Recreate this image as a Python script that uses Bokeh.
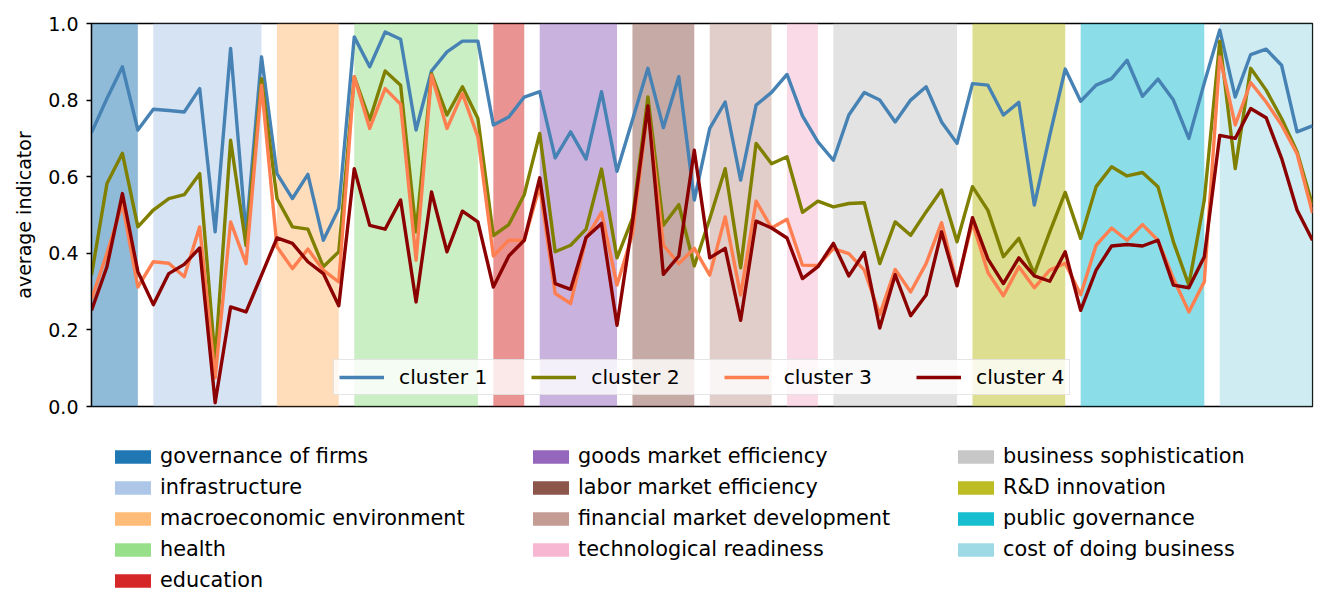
from bokeh.plotting import figure
from bokeh.layouts import column
from bokeh.models import (Range1d, FixedTicker, PrintfTickFormatter, Legend,
                          LegendItem, ColumnDataSource)
from bokeh.embed import file_html
from bokeh.resources import INLINE

# indicator groups, how many indicators each holds, and their colours
categories = ["governance of firms", "infrastructure", "macroeconomic environment",
              "health", "education", "goods market efficiency",
              "labor market efficiency", "financial market development",
              "technological readiness", "business sophistication",
              "R&D innovation", "public governance", "cost of doing business"]
category_sizes = [4, 8, 5, 9, 3, 6, 5, 5, 3, 9, 7, 9, 7]
category_colors = ["#1f77b4", "#aec7e8", "#ffbb78", "#98df8a", "#d62728",
                   "#9467bd", "#8c564b", "#c49c94", "#f7b6d2", "#c7c7c7",
                   "#bcbd22", "#17becf", "#9edae5"]

# average indicator value per cluster, one value per indicator
cluster_1 = [0.715, 0.804, 0.887, 0.722, 0.776, 0.773, 0.769, 0.830, 0.456, 0.935,
             0.450, 0.913, 0.608, 0.543, 0.606, 0.434, 0.517, 0.965, 0.887, 0.978,
             0.959, 0.722, 0.876, 0.926, 0.954, 0.954, 0.735, 0.756, 0.808, 0.822,
             0.649, 0.717, 0.646, 0.822, 0.614, 0.748, 0.883, 0.728, 0.861, 0.539,
             0.726, 0.795, 0.591, 0.787, 0.820, 0.867, 0.759, 0.691, 0.643, 0.761,
             0.820, 0.800, 0.743, 0.800, 0.835, 0.743, 0.687, 0.843, 0.839, 0.761,
             0.794, 0.526, 0.708, 0.881, 0.797, 0.839, 0.856, 0.904, 0.810, 0.855,
             0.800, 0.700, 0.845, 0.983, 0.808, 0.919, 0.933, 0.891, 0.717, 0.733]
cluster_2 = [0.343, 0.582, 0.661, 0.469, 0.513, 0.543, 0.553, 0.608, 0.121, 0.695,
             0.420, 0.856, 0.543, 0.469, 0.463, 0.365, 0.404, 0.861, 0.748, 0.876,
             0.839, 0.456, 0.869, 0.761, 0.835, 0.752, 0.446, 0.475, 0.553, 0.713,
             0.404, 0.421, 0.463, 0.620, 0.388, 0.491, 0.808, 0.473, 0.527, 0.367,
             0.490, 0.621, 0.362, 0.687, 0.634, 0.652, 0.507, 0.536, 0.521, 0.530,
             0.532, 0.373, 0.482, 0.447, 0.508, 0.565, 0.430, 0.574, 0.512, 0.391,
             0.439, 0.347, 0.456, 0.559, 0.439, 0.574, 0.626, 0.602, 0.611, 0.574,
             0.430, 0.317, 0.539, 0.954, 0.621, 0.883, 0.826, 0.752, 0.665, 0.526]
cluster_3 = [0.280, 0.400, 0.530, 0.312, 0.378, 0.374, 0.339, 0.469, 0.075, 0.482,
             0.373, 0.839, 0.417, 0.360, 0.411, 0.356, 0.325, 0.861, 0.726, 0.830,
             0.789, 0.382, 0.865, 0.726, 0.817, 0.704, 0.393, 0.434, 0.434, 0.575,
             0.295, 0.269, 0.439, 0.507, 0.317, 0.450, 0.780, 0.421, 0.373, 0.413,
             0.343, 0.495, 0.291, 0.536, 0.466, 0.489, 0.369, 0.368, 0.412, 0.399,
             0.356, 0.240, 0.358, 0.299, 0.373, 0.480, 0.320, 0.480, 0.350, 0.289,
             0.365, 0.310, 0.356, 0.374, 0.292, 0.421, 0.466, 0.434, 0.475, 0.434,
             0.334, 0.247, 0.326, 0.913, 0.735, 0.846, 0.795, 0.735, 0.660, 0.505]
cluster_4 = [0.251, 0.365, 0.556, 0.352, 0.266, 0.347, 0.371, 0.414, 0.010, 0.260,
             0.247, 0.343, 0.440, 0.426, 0.378, 0.347, 0.263, 0.621, 0.473, 0.463,
             0.539, 0.273, 0.560, 0.404, 0.510, 0.482, 0.312, 0.393, 0.434, 0.597,
             0.321, 0.306, 0.441, 0.478, 0.212, 0.480, 0.785, 0.345, 0.393, 0.669,
             0.388, 0.413, 0.225, 0.484, 0.466, 0.440, 0.334, 0.365, 0.426, 0.341,
             0.402, 0.205, 0.344, 0.237, 0.291, 0.456, 0.315, 0.493, 0.385, 0.321,
             0.388, 0.341, 0.327, 0.404, 0.251, 0.356, 0.419, 0.423, 0.419, 0.434,
             0.317, 0.310, 0.391, 0.708, 0.700, 0.778, 0.754, 0.648, 0.513, 0.434]

cluster_names = ["cluster 1", "cluster 2", "cluster 3", "cluster 4"]
cluster_colors = ["steelblue", "olive", "coral", "darkred"]
y_ticks = [0.0, 0.2, 0.4, 0.6, 0.8, 1.0]

FONT = "DejaVu Sans"

# span of indicator positions covered by each group
starts, ends = [], []
pos = 0
for n in category_sizes:
    starts.append(pos)
    ends.append(pos + n - 1)
    pos += n
n_points = pos
x = list(range(n_points))

p = figure(width=1335, height=430, output_backend="svg", toolbar_location=None,
           x_range=Range1d(0, n_points - 1), y_range=Range1d(0, 1),
           x_axis_location=None,
           min_border_left=91, min_border_right=23, min_border_top=23,
           min_border_bottom=24)
p.grid.visible = False
p.outline_line_color = "black"
p.outline_line_width = 1.3

# shaded background bands, one per indicator group
bands = ColumnDataSource(dict(left=starts, right=ends, color=category_colors))
p.quad(left="left", right="right", bottom=0, top=1, fill_color="color",
       fill_alpha=0.5, line_color=None, source=bands)

# cluster profiles
line_renderers = []
for vals, col in zip([cluster_1, cluster_2, cluster_3, cluster_4], cluster_colors):
    r = p.line(x, vals, line_color=col, line_width=3.4, line_join="round")
    line_renderers.append(r)

# y axis
yax = p.yaxis[0]
yax.ticker = FixedTicker(ticks=y_ticks)
yax.formatter = PrintfTickFormatter(format="%.1f")
yax.minor_tick_line_color = None
yax.major_tick_in = 0
yax.major_tick_out = 5
yax.major_tick_line_width = 1.3
yax.axis_line_width = 1.3
yax.major_label_standoff = 8
yax.major_label_text_font = FONT
yax.major_label_text_font_size = "19px"
yax.major_label_text_color = "black"
yax.axis_label = "average indicator"
yax.axis_label_text_font = FONT
yax.axis_label_text_font_size = "19px"
yax.axis_label_text_font_style = "normal"
yax.axis_label_text_color = "black"
yax.axis_label_standoff = 10

# cluster legend inside the frame
cluster_legend = Legend(
    items=[LegendItem(label=n, renderers=[r]) for n, r in zip(cluster_names, line_renderers)],
    orientation="horizontal", location=(242, 11), glyph_width=45, glyph_height=20,
    label_standoff=15, spacing=44, padding=5, margin=0, label_height=21,
    label_text_font=FONT, label_text_font_size="20.3px", label_text_color="black",
    background_fill_color="white", background_fill_alpha=0.8,
    border_line_color="#cccccc", border_line_width=1)
p.add_layout(cluster_legend)

# group legend underneath, laid out in three columns (frame aligned with the chart)
key = figure(width=1335, height=185, output_backend="svg", toolbar_location=None,
             x_range=Range1d(0, n_points - 1), y_range=Range1d(0, 1),
             x_axis_location=None, y_axis_location=None,
             min_border_left=91, min_border_right=23, min_border_top=0,
             min_border_bottom=0)
key.grid.visible = False
key.outline_line_color = None

# zero-height quads that only carry the swatch colours for the key
swatch = key.quad(left="left", right="right", bottom=0, top=0, fill_color="color",
                  fill_alpha=1.0, line_color=None, source=bands)

columns = [(0, 5, 19), (5, 9, 437), (9, 13, 862)]
item_h, gap = 25, 6
top_offset = 13.5
for a, b, x0 in columns:
    n = b - a
    height = n * item_h + (n - 1) * gap
    leg = Legend(
        items=[LegendItem(label=categories[i], renderers=[swatch], index=i)
               for i in range(a, b)],
        orientation="vertical", location=(x0, 185 - top_offset - height),
        glyph_width=45, glyph_height=17, label_standoff=5, spacing=gap,
        padding=0, margin=0, label_height=item_h,
        label_text_font=FONT, label_text_font_size="20.8px", label_text_color="black",
        background_fill_alpha=0, border_line_alpha=0)
    key.add_layout(leg)

layout = column(p, key, spacing=0)
open("out.html", "w").write(file_html(layout, INLINE))
